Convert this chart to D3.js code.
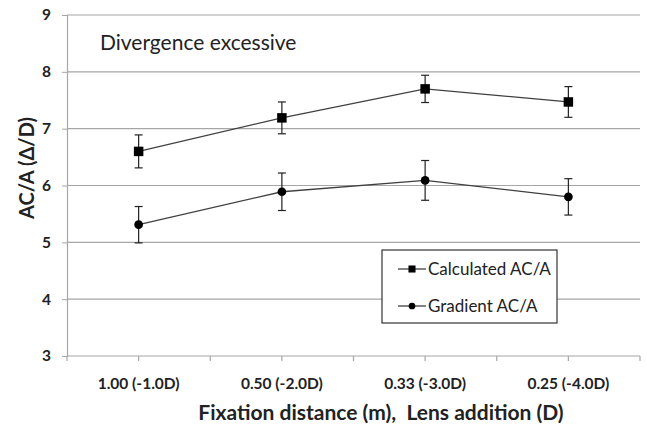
<!DOCTYPE html>
<html><head><meta charset="utf-8">
<script src="https://cdn.jsdelivr.net/npm/d3@7"></script>
<style>body{margin:0;background:#fff}svg{display:block}text{font-family:Lato,"Open Sans",sans-serif}</style>
</head><body>
<svg id="c" width="647" height="425"></svg>
<script>
const categories = ["1.00 (-1.0D)", "0.50 (-2.0D)", "0.33 (-3.0D)", "0.25 (-4.0D)"];
const calculated = [6.60, 7.19, 7.70, 7.47];
const calculatedErr = [0.29, 0.28, 0.24, 0.27];
const gradient = [5.31, 5.89, 6.09, 5.80];
const gradientErr = [0.32, 0.33, 0.35, 0.32];
const yTicks = [3, 4, 5, 6, 7, 8, 9];
const seriesNames = ["Calculated AC/A", "Gradient AC/A"];

(function () {
const svg = d3.select("#c");
const pl = 67, pr = 640, pt = 15, pb = 356;
const x = d3.scaleBand().domain(categories).range([pl, pr]).paddingInner(0).paddingOuter(0);
const y = d3.scaleLinear().domain([3, 9]).range([pb, pt]);

// gridlines
svg.append("g").selectAll("line").data(yTicks).join("line")
  .attr("x1", pl).attr("x2", pr)
  .attr("y1", d => y(d)).attr("y2", d => y(d))
  .attr("stroke", "#a6a6a6").attr("stroke-width", 1.2);

// y axis
const yAxis = svg.append("g").attr("transform", `translate(${pl},0)`)
  .call(d3.axisLeft(y).tickValues(yTicks).tickSize(5).tickPadding(11).tickFormat(d3.format("d")));
yAxis.select(".domain").attr("stroke", "#a6a6a6").attr("stroke-width", 1.2);
yAxis.selectAll(".tick line").attr("stroke", "#a6a6a6");
yAxis.selectAll("text").attr("font-size", 15.5).attr("font-weight", "bold").attr("fill", "#222")
  .attr("font-family", "Lato, sans-serif");

// x axis ticks (boundaries and centers)
const half = x.bandwidth() / 2;
const xTickPos = d3.range(0, categories.length * 2 + 1).map(i => pl + i * half);
svg.append("g").selectAll("line").data(xTickPos).join("line")
  .attr("x1", d => d).attr("x2", d => d).attr("y1", pb).attr("y2", pb + 5)
  .attr("stroke", "#a6a6a6").attr("stroke-width", 1.2);
svg.append("g").selectAll("text").data(categories).join("text")
  .attr("x", d => x(d) + half).attr("y", 389)
  .attr("text-anchor", "middle").attr("font-size", 15.5).attr("font-weight", "bold").attr("fill", "#222")
  .text(d => d);

// titles
svg.append("text").attr("x", 381).attr("y", 420).attr("text-anchor", "middle")
  .style("white-space", "pre")
  .attr("font-size", 21).attr("font-weight", "bold").attr("fill", "#222")
  .text("Fixation distance (m),  Lens addition (D)");
svg.append("text").attr("transform", "translate(34,168) rotate(-90)").attr("text-anchor", "middle")
  .attr("font-size", 20).attr("font-weight", "bold").attr("fill", "#222")
  .text("AC/A (\u0394/D)");
svg.append("text").attr("x", 100).attr("y", 50).attr("font-size", 21).attr("fill", "#222")
  .text("Divergence excessive");

function drawSeries(vals, errs, shape) {
  const g = svg.append("g");
  const cx = i => x(categories[i]) + half;
  g.append("path").datum(vals)
    .attr("d", d3.line().x((d, i) => cx(i)).y(d => y(d)))
    .attr("fill", "none").attr("stroke", "#404040").attr("stroke-width", 1.3);
  vals.forEach((v, i) => {
    const e = errs[i];
    g.append("line").attr("x1", cx(i)).attr("x2", cx(i)).attr("y1", y(v + e)).attr("y2", y(v - e))
      .attr("stroke", "#222").attr("stroke-width", 1.2);
    [v + e, v - e].forEach(t => g.append("line").attr("x1", cx(i) - 4).attr("x2", cx(i) + 4)
      .attr("y1", y(t)).attr("y2", y(t)).attr("stroke", "#222").attr("stroke-width", 1.2));
  });
  g.selectAll("path.m").data(vals).join("path").attr("class", "m")
    .attr("transform", (d, i) => `translate(${cx(i)},${y(d)})`)
    .attr("d", d3.symbol().type(shape === "square" ? d3.symbolSquare : d3.symbolCircle).size(shape === "square" ? 90 : 60))
    .attr("fill", "#000");
}
drawSeries(calculated, calculatedErr, "square");
drawSeries(gradient, gradientErr, "circle");

// legend
const lg = svg.append("g");
lg.append("rect").attr("x", 382).attr("y", 250).attr("width", 175).attr("height", 73)
  .attr("fill", "#fff").attr("stroke", "#333").attr("stroke-width", 1.2);
const rowsY = [269, 306];
seriesNames.forEach((name, i) => {
  lg.append("line").attr("x1", 398).attr("x2", 426).attr("y1", rowsY[i]).attr("y2", rowsY[i])
    .attr("stroke", "#404040").attr("stroke-width", 1.3);
  lg.append("path").attr("transform", `translate(412,${rowsY[i]})`)
    .attr("d", d3.symbol().type(i === 0 ? d3.symbolSquare : d3.symbolCircle).size(i === 0 ? 50 : 35))
    .attr("fill", "#000");
  lg.append("text").attr("x", 428).attr("y", rowsY[i] + 6).attr("font-size", 17).attr("fill", "#222").text(name);
});
})();
</script>
</body></html>
